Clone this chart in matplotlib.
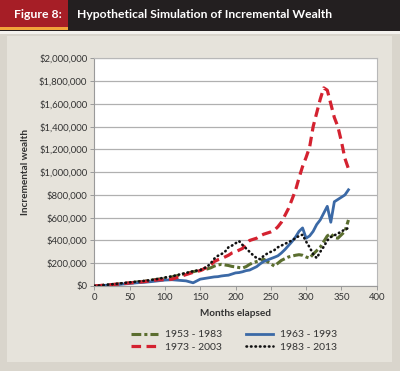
import matplotlib
matplotlib.use("Agg")
import matplotlib.pyplot as plt
from matplotlib.patches import Rectangle
from matplotlib.ticker import FuncFormatter, MultipleLocator
from matplotlib.lines import Line2D

plt.rcParams['font.family'] = ['Lato', 'DejaVu Sans']

# ---------------- data ----------------
months = [0, 10, 20, 30, 40, 50, 60, 70, 80, 90, 100, 110, 120, 130, 140,
          150, 155, 160, 165, 170, 175, 180, 185, 190, 195, 200, 205, 210, 215,
          220, 225, 230, 235, 240, 245, 250, 255, 260, 265, 270, 275, 280, 285,
          290, 295, 300, 305, 310, 315, 320, 325, 330, 335, 340, 345, 350, 355, 360]

# values in thousands of dollars
w_1953 = [0, 5, 10, 15, 22, 28, 35, 42, 50, 60, 68, 80, 95, 110, 125,
          140, 145, 150, 160, 175, 185, 190, 185, 180, 172, 168, 162, 158, 170,
          190, 205, 215, 225, 235, 215, 195, 175, 200, 225, 240, 255, 262, 270,
          275, 270, 255, 245, 280, 310, 340, 390, 440, 460, 425, 420, 450, 480, 580]

w_1963 = [0, 4, 8, 12, 17, 22, 28, 32, 38, 45, 52, 55, 50, 45, 28,
          60, 65, 70, 75, 80, 82, 88, 92, 95, 105, 115, 118, 125, 135,
          140, 155, 170, 195, 215, 228, 240, 252, 265, 290, 320, 355, 390, 430,
          480, 510, 420, 440, 480, 540, 580, 640, 700, 560, 740, 760, 780, 800, 845]

w_1973 = [0, 5, 10, 15, 20, 27, 32, 38, 45, 55, 55, 60, 80, 100, 120,
          135, 150, 165, 185, 215, 230, 240, 255, 270, 290, 300, 315, 330, 370,
          400, 410, 420, 440, 455, 465, 475, 490, 520, 560, 620, 680, 760, 840,
          950, 1050, 1130, 1220, 1400, 1520, 1640, 1740, 1720, 1600, 1480, 1400, 1270, 1120, 1030]

w_1983 = [0, 6, 12, 18, 25, 32, 38, 45, 52, 62, 75, 85, 100, 115, 130,
          140, 155, 170, 200, 240, 265, 280, 300, 340, 355, 375, 395, 360, 330,
          300, 270, 245, 235, 265, 285, 300, 315, 340, 355, 370, 385, 400, 420,
          440, 450, 390, 340, 280, 245, 300, 345, 400, 430, 445, 460, 480, 495, 510]

labels = ["1953 - 1983", "1963 - 1993", "1973 - 2003", "1983 - 2013"]
title_fig = "Figure 8:"
title_txt = "Hypothetical Simulation of Incremental Wealth"
x_label = "Months elapsed"
y_label = "Incremental wealth"

# ---------------- figure ----------------
fig = plt.figure(figsize=(4.0, 3.71), dpi=100)
fig.patch.set_facecolor('#d9d5cc')

W, H = 400.0, 371.0
def box(x0, y0, x1, y1, color):
    fig.patches.append(Rectangle((x0 / W, 1 - y1 / H), (x1 - x0) / W, (y1 - y0) / H,
                                 transform=fig.transFigure, facecolor=color,
                                 edgecolor='none', zorder=-10))

box(0, 0, 400, 31, '#231f20')
box(0, 0, 68, 27, '#a61e26')
box(0, 27, 68, 29.5, '#f2a33a')
box(0, 31, 400, 33.5, '#f4f2ee')
box(7, 36, 392, 362, '#e6e3db')

fig.text(14 / W, 1 - 15 / H, title_fig, color='white', fontsize=8.8,
         fontweight='bold', va='center', ha='left')
fig.text(77 / W, 1 - 15 / H, title_txt, color='white', fontsize=8.7,
         fontweight='bold', va='center', ha='left')

ax = fig.add_axes([94.3 / W, 85 / H, 282.4 / W, 227.7 / H])
ax.set_facecolor('white')

st_g = dict(color='#5b6e2f', lw=2.2, dashes=(3.2, 1.0, 1.0, 1.0))
st_b = dict(color='#3b69a6', lw=2.0)
st_r = dict(color='#d42230', lw=2.3, dashes=(3.0, 1.7))
st_k = dict(color='#111111', lw=1.9, dashes=(0.2, 1.5), dash_capstyle='round')

ax.plot(months, w_1953, zorder=3, **st_g)
ax.plot(months, w_1963, zorder=3, **st_b)
ax.plot(months, w_1973, zorder=4, **st_r)
ax.plot(months, w_1983, zorder=5, **st_k)

ax.set_xlim(0, 400)
ax.set_ylim(0, 2000)
ax.xaxis.set_major_locator(MultipleLocator(50))
ax.yaxis.set_major_locator(MultipleLocator(200))
ax.yaxis.set_major_formatter(FuncFormatter(lambda v, p: "${:,.0f}".format(v * 1000)))
ax.grid(axis='y', color='#b0b0b0', lw=0.9)
ax.set_axisbelow(True)
for s in ['top', 'right']:
    ax.spines[s].set_color('#b8b8b8')
for s in ['left', 'bottom']:
    ax.spines[s].set_color('#9a9a9a')
ax.tick_params(axis='both', labelsize=6.8, colors='#9a9a9a', labelcolor='#333333',
               length=3, width=0.7, pad=2)

ax.set_xlabel(x_label, fontsize=7.2, fontweight='bold', color='#333333', labelpad=5)
fig.text(26 / W, 1 - 172 / H, y_label, rotation=90, fontsize=7.2, fontweight='bold',
         color='#333333', va='center', ha='center')

handles = [Line2D([0], [0], **st_g), Line2D([0], [0], **st_r),
           Line2D([0], [0], **st_b), Line2D([0], [0], **st_k)]
leg_labels = [labels[0], labels[2], labels[1], labels[3]]
leg = fig.legend(handles, leg_labels, loc='center', bbox_to_anchor=(234 / W, 1 - 341 / H),
                 ncol=2, frameon=False, fontsize=7.5, handlelength=2.6,
                 columnspacing=2.3, handletextpad=0.7, labelspacing=0.35)
for t in leg.get_texts():
    t.set_color('#333333')

fig.savefig('out.png', dpi=100, facecolor=fig.get_facecolor())
